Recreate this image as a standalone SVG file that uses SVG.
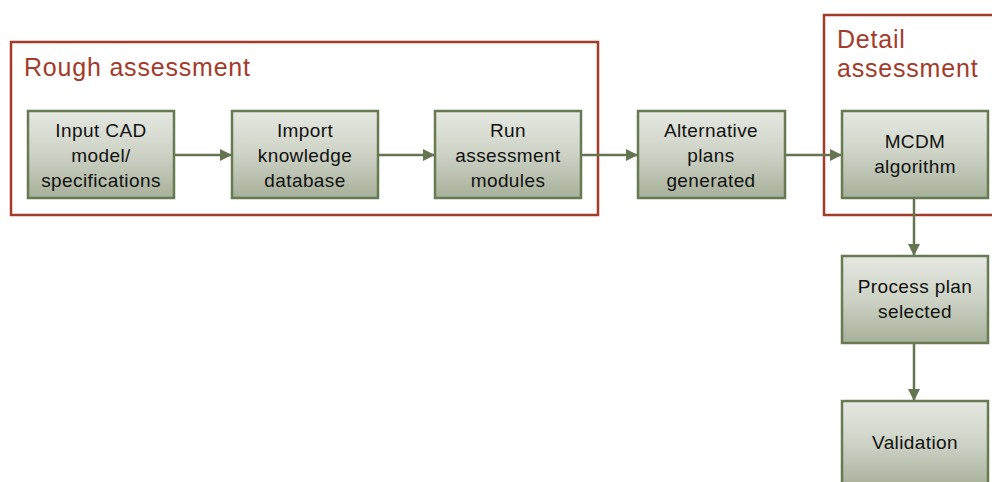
<svg xmlns="http://www.w3.org/2000/svg" width="992" height="482" viewBox="0 0 992 482">
<defs>
<linearGradient id="g" x1="0" y1="0" x2="0" y2="1">
<stop offset="0" stop-color="#e6e8e2"/>
<stop offset="0.5" stop-color="#cdd2c5"/>
<stop offset="1" stop-color="#a7b09a"/>
</linearGradient>
<marker id="ah" viewBox="0 0 10 10" refX="10" refY="5" markerWidth="12" markerHeight="12" markerUnits="userSpaceOnUse" orient="auto">
<path d="M0,0 L10,5 L0,10 z" fill="#657552"/>
</marker>
<style>
.n{fill:url(#g);stroke:#677a52;stroke-width:2.5}
.t{font-family:"Liberation Sans",Arial,sans-serif;font-size:19px;letter-spacing:0.4px;fill:#111;text-anchor:middle}
.grp{fill:none;stroke:#a33b2b;stroke-width:2.5}
.gt{font-family:"Liberation Sans",Arial,sans-serif;font-size:25px;letter-spacing:0.8px;fill:#a33b2b}
.c{stroke:#657552;stroke-width:2.5;fill:none;marker-end:url(#ah)}
</style>
</defs>
<rect width="992" height="482" fill="#fff"/>
<g id="rough">
<rect class="grp" x="11" y="42" width="587" height="173"/>
<text class="gt" x="24" y="76">Rough assessment</text>
</g>
<g id="detail">
<rect class="grp" x="824" y="15" width="180" height="200"/>
<text class="gt" x="837" y="48">Detail</text>
<text class="gt" x="837" y="77">assessment</text>
</g>
<g id="connectors">
<line class="c" x1="174" y1="155" x2="232" y2="155"/>
<line class="c" x1="378" y1="155" x2="435" y2="155"/>
<line class="c" x1="581" y1="155" x2="638" y2="155"/>
<line class="c" x1="785" y1="155" x2="842" y2="155"/>
<line class="c" x1="914" y1="199" x2="914" y2="256"/>
<line class="c" x1="914" y1="344" x2="914" y2="401"/>
</g>
<g id="n1">
<rect class="n" x="28" y="111" width="146" height="87"/>
<text class="t" x="101" y="137">Input CAD</text>
<text class="t" x="101" y="162">model/</text>
<text class="t" x="101" y="187">specifications</text>
</g>
<g id="n2">
<rect class="n" x="232" y="111" width="146" height="87"/>
<text class="t" x="305" y="137">Import</text>
<text class="t" x="305" y="162">knowledge</text>
<text class="t" x="305" y="187">database</text>
</g>
<g id="n3">
<rect class="n" x="435" y="111" width="146" height="87"/>
<text class="t" x="508" y="137">Run</text>
<text class="t" x="508" y="162">assessment</text>
<text class="t" x="508" y="187">modules</text>
</g>
<g id="n4">
<rect class="n" x="638" y="111" width="147" height="87"/>
<text class="t" x="711" y="137">Alternative</text>
<text class="t" x="711" y="162">plans</text>
<text class="t" x="711" y="187">generated</text>
</g>
<g id="n5">
<rect class="n" x="842" y="111" width="146" height="87"/>
<text class="t" x="915" y="148">MCDM</text>
<text class="t" x="915" y="173">algorithm</text>
</g>
<g id="n6">
<rect class="n" x="842" y="256" width="146" height="87"/>
<text class="t" x="915" y="293">Process plan</text>
<text class="t" x="915" y="318">selected</text>
</g>
<g id="n7">
<rect class="n" x="842" y="401" width="146" height="87"/>
<text class="t" x="915" y="449">Validation</text>
</g>
</svg>
